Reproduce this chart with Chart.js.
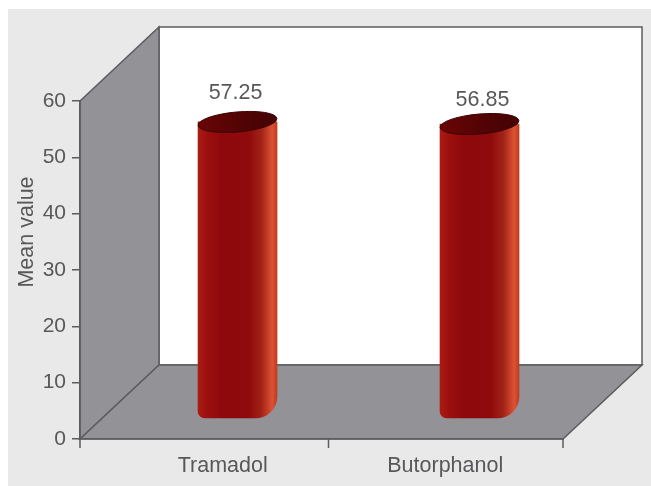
<!DOCTYPE html>
<html lang="en">
  <head>
    <meta charset="UTF-8" />
    <title>Mean value</title>
    <script src="https://cdn.jsdelivr.net/npm/chart.js@4/dist/chart.umd.min.js"></script>
    <style>
      html, body { margin: 0; padding: 0; background: #fff; overflow: hidden; }
      #wrap { width: 651px; height: 486px; }
      canvas { filter: blur(0.4px); }
    </style>
  </head>
  <body>
    <div id="wrap"><canvas id="meanChart"></canvas></div>

    <script>
      const categories = ["Tramadol", "Butorphanol"];
      const meanValues = [57.25, 56.85];
      const yTicks = [0, 10, 20, 30, 40, 50, 60];
      const yTitle = "Mean value";

      // 3D box look: the back wall sits up and to the right of the front axes
      const DEPTH_X = 79;
      const DEPTH_Y = 74;
      const TEXT = "#58585a";
      const LINE = "#5c5c60";
      const FONT_FAMILY = '"Liberation Sans", Arial, sans-serif';
      const FONT = "21.5px " + FONT_FAMILY;

      function poly(ctx, pts, fill) {
        ctx.beginPath();
        pts.forEach((p, i) => (i ? ctx.lineTo(p[0], p[1]) : ctx.moveTo(p[0], p[1])));
        ctx.closePath();
        ctx.fillStyle = fill;
        ctx.fill();
        ctx.strokeStyle = LINE;
        ctx.lineWidth = 1.5;
        ctx.stroke();
      }

      const boxPlugin = {
        id: "box",
        beforeDraw(chart) {
          const ctx = chart.ctx;
          const { left, right, top, bottom } = chart.chartArea;
          ctx.save();
          ctx.fillStyle = "#e9e9ea";
          ctx.fillRect(8, 9, 643, 477);
          // back wall, left wall, floor
          poly(ctx, [[left + DEPTH_X, top - DEPTH_Y], [right + DEPTH_X, top - DEPTH_Y], [right + DEPTH_X, bottom - DEPTH_Y], [left + DEPTH_X, bottom - DEPTH_Y]], "#ffffff");
          poly(ctx, [[left, top], [left + DEPTH_X, top - DEPTH_Y], [left + DEPTH_X, bottom - DEPTH_Y], [left, bottom]], "#929297");
          poly(ctx, [[left, bottom], [left + DEPTH_X, bottom - DEPTH_Y], [right + DEPTH_X, bottom - DEPTH_Y], [right, bottom]], "#929297");
          ctx.restore();
        },
        afterDraw(chart) {
          const ctx = chart.ctx;
          const { left, right, bottom } = chart.chartArea;
          const xs = chart.scales.x;
          ctx.save();
          // x axis ticks
          ctx.strokeStyle = LINE;
          ctx.lineWidth = 1.5;
          [left, xs.getPixelForTick(0) + (xs.getPixelForTick(1) - xs.getPixelForTick(0)) / 2 + 7, right].forEach((x) => {
            ctx.beginPath();
            ctx.moveTo(x, bottom);
            ctx.lineTo(x, bottom + 9);
            ctx.stroke();
          });
          ctx.fillStyle = TEXT;
          ctx.font = FONT;
          ctx.textAlign = "center";
          ctx.textBaseline = "middle";
          // category labels
          const labelShift = [22, 3];
          categories.forEach((c, i) => ctx.fillText(c, xs.getPixelForTick(i) + labelShift[i], 466));
          // axis title
          ctx.save();
          ctx.translate(27, 232);
          ctx.rotate(-Math.PI / 2);
          ctx.fillText(yTitle, 0, 0);
          ctx.restore();
          ctx.restore();
        },
        afterDatasetsDraw(chart) {
          const ctx = chart.ctx;
          const bars = chart.getDatasetMeta(0).data;
          // the value labels are not placed alike above the two bars
          const valueShiftX = [-2, 3];
          const valueShiftY = [-29, -24];
          bars.forEach((bar, i) => {
            const rx = bar.width / 2;
            ctx.save();
            ctx.beginPath();
            ctx.ellipse(bar.x, bar.y, rx, 10, (-5 * Math.PI) / 180, 0, Math.PI * 2);
            const g = ctx.createLinearGradient(bar.x - rx, 0, bar.x + rx, 0);
            g.addColorStop(0, "#6a0506");
            g.addColorStop(0.5, "#540304");
            g.addColorStop(1, "#430304");
            ctx.fillStyle = g;
            ctx.fill();
            ctx.strokeStyle = "#3c0303";
            ctx.lineWidth = 1;
            ctx.stroke();
            // value label
            ctx.fillStyle = TEXT;
            ctx.font = FONT;
            ctx.textAlign = "center";
            ctx.textBaseline = "middle";
            ctx.fillText(meanValues[i].toFixed(2), bar.x + valueShiftX[i], bar.y + valueShiftY[i]);
            ctx.restore();
          });
        },
      };

      function cylinderFill(context) {
        const chart = context.chart;
        const scale = chart.scales.xBar;
        if (!chart.chartArea || !scale) return "#8f0a0c";
        const x = scale.getPixelForValue(context.dataIndex);
        const half = context.dataset.barThickness / 2;
        const g = chart.ctx.createLinearGradient(x - half, 0, x + half, 0);
        g.addColorStop(0, "#aa1c12");
        g.addColorStop(0.12, "#9c0f0f");
        g.addColorStop(0.3, "#8e090c");
        g.addColorStop(0.64, "#8e0a0c");
        g.addColorStop(0.8, "#a22216");
        g.addColorStop(0.94, "#dc5233");
        g.addColorStop(1, "#c03a22");
        return g;
      }

      new Chart(document.getElementById("meanChart"), {
        type: "bar",
        data: {
          labels: categories,
          datasets: [
            {
              label: yTitle,
              data: meanValues.map((v, i) => ({ x: i, y: v })),
              xAxisID: "xBar",
              yAxisID: "yBar",
              barThickness: 79,
              backgroundColor: cylinderFill,
              borderRadius: { topLeft: 0, topRight: 0, bottomLeft: 7, bottomRight: 22 },
              borderSkipped: false,
            },
          ],
        },
        options: {
          responsive: true,
          maintainAspectRatio: false,
          animation: false,
          layout: { padding: { top: 101, right: 88, bottom: 47, left: 0 } },
          plugins: { legend: { display: false }, tooltip: { enabled: false } },
          scales: {
            x: {
              type: "category",
              labels: categories,
              offset: true,
              grid: { display: false },
              border: { display: true, color: LINE, width: 1.5 },
              ticks: { display: false },
              afterFit(scale) { scale.height = 0; },
            },
            y: {
              min: 0,
              max: 60,
              afterBuildTicks(scale) { scale.ticks = yTicks.map((v) => ({ value: v })); },
              grid: { drawOnChartArea: false, color: LINE, tickLength: 8, lineWidth: 1.5 },
              border: { display: true, color: LINE, width: 1.5 },
              ticks: { color: TEXT, font: { family: FONT_FAMILY, size: 21 }, padding: 6 },
              afterFit(scale) { scale.width = 80; },
            },
            // hidden axes: the bars stand on the middle of the floor, not on the front edge
            xBar: { type: "linear", display: false, offset: false, min: -0.651, max: 1.345 },
            yBar: { type: "linear", display: false, min: -4.06, max: 61.3 },
          },
        },
        plugins: [boxPlugin],
      });
    </script>
  </body>
</html>
